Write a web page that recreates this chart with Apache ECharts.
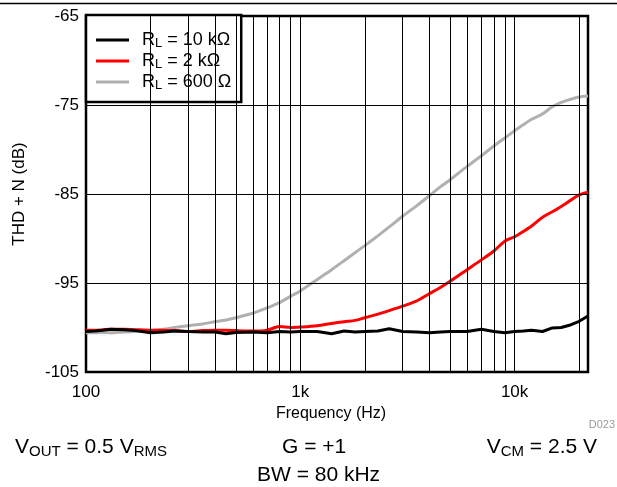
<!DOCTYPE html>
<html>
<head>
<meta charset="utf-8">
<script src="https://cdn.jsdelivr.net/npm/echarts@6/dist/echarts.min.js"></script>
<style>
html,body{margin:0;padding:0;background:#fff;}
#chart{width:617px;height:487px;}
</style>
</head>
<body>
<div id="chart"></div>
<script>
// ---- Data ----
const freqs = [100,110,120,130,150,170,200,230,260,300,350,400,450,500,600,700,800,900,1000,1200,1400,1600,1800,2000,2300,2600,3000,3500,4000,4500,5000,6000,7000,8000,9000,10000,11000,12000,13500,15000,16500,18000,20000,22000];

const rl10k = [-100.45,-100.4,-100.3,-100.2,-100.25,-100.35,-100.6,-100.5,-100.4,-100.45,-100.5,-100.5,-100.7,-100.55,-100.5,-100.6,-100.45,-100.5,-100.45,-100.45,-100.7,-100.4,-100.5,-100.45,-100.4,-100.15,-100.45,-100.5,-100.6,-100.5,-100.45,-100.45,-100.2,-100.45,-100.6,-100.45,-100.4,-100.3,-100.45,-100.05,-100.0,-99.75,-99.3,-98.7];

const rl2k = [-100.3,-100.3,-100.25,-100.2,-100.2,-100.25,-100.3,-100.3,-100.35,-100.45,-100.35,-100.3,-100.3,-100.35,-100.4,-100.3,-99.9,-100.0,-99.95,-99.8,-99.55,-99.35,-99.2,-98.9,-98.5,-98.1,-97.6,-97.0,-96.2,-95.5,-94.8,-93.5,-92.4,-91.4,-90.3,-89.8,-89.2,-88.6,-87.6,-87.0,-86.4,-85.8,-85.1,-84.8];

const rl600 = [-100.6,-100.6,-100.55,-100.6,-100.5,-100.45,-100.35,-100.2,-100.0,-99.8,-99.6,-99.35,-99.15,-98.9,-98.4,-97.8,-97.2,-96.5,-95.9,-94.6,-93.5,-92.5,-91.6,-90.8,-89.7,-88.7,-87.5,-86.3,-85.2,-84.2,-83.4,-81.9,-80.7,-79.6,-78.7,-77.9,-77.2,-76.6,-76.0,-75.2,-74.7,-74.4,-74.1,-74.0];

const seriesNames = ['RL = 10 kΩ', 'RL = 2 kΩ', 'RL = 600 Ω'];
const seriesLabels = ['R{sub|L} = 10 kΩ', 'R{sub|L} = 2 kΩ', 'R{sub|L} = 600 Ω'];
const seriesColors = ['#000000', '#ff0000', '#b0b0b0'];

const yTickLabels = [-105, -95, -85, -75, -65];
const yGridLines = [-95, -85, -75];
const xTickLabels = {100: '100', 1000: '1k', 10000: '10k'};
const xGridLines = [200,300,400,500,600,700,800,900,1000,2000,3000,4000,5000,6000,7000,8000,9000,10000,20000];

const FONT = '"Liberation Sans", Arial, Helvetica, sans-serif';

function pairs(ys) { return freqs.map((f, i) => [f, ys[i]]); }

const chart = echarts.init(document.getElementById('chart'), null, {renderer: 'canvas'});

const dataSets = [rl10k, rl2k, rl600];

const option = {
  animation: false,
  backgroundColor: '#fff',
  textStyle: {fontFamily: FONT},
  grid: {left: 86, right: 29, top: 16, bottom: 115, show: true, borderColor: '#000', borderWidth: 2.5, backgroundColor: 'transparent'},
  legend: {
    orient: 'vertical',
    left: 86, top: 15,
    data: seriesNames,
    icon: 'rect',
    itemWidth: 33, itemHeight: 3,
    itemGap: 2,
    padding: [16, 10, 10, 10],
    borderColor: '#000', borderWidth: 2.5,
    backgroundColor: '#fff',
    formatter: function (name) { return seriesLabels[seriesNames.indexOf(name)]; },
    textStyle: {
      fontFamily: FONT, fontSize: 18, color: '#000', padding: [0, 0, 0, 8],
      rich: {sub: {fontFamily: FONT, fontSize: 13, color: '#000', padding: [7, 0, 0, 0]}}
    }
  },
  xAxis: {
    type: 'log', logBase: 10, min: 100, max: 22000,
    axisLine: {show: false},
    axisTick: {show: false},
    splitLine: {show: false},
    axisLabel: {
      fontFamily: FONT, fontSize: 17, color: '#000', margin: 12,
      showMaxLabel: false,
      formatter: function (v) { const k = Math.round(v); return xTickLabels[k] !== undefined ? xTickLabels[k] : ''; }
    },
    name: 'Frequency (Hz)', nameLocation: 'middle', nameGap: 33,
    nameTextStyle: {fontFamily: FONT, fontSize: 16, color: '#000', padding: [0, 12, 0, 0]}
  },
  yAxis: {
    type: 'value', min: -105, max: -65, interval: 5,
    axisLine: {show: false},
    axisTick: {show: false},
    splitLine: {show: false},
    axisLabel: {
      fontFamily: FONT, fontSize: 17, color: '#000', margin: 7,
      formatter: function (v) { return yTickLabels.indexOf(v) >= 0 ? String(v) : ''; }
    },
    name: 'THD + N (dB)', nameLocation: 'middle', nameGap: 58,
    nameTextStyle: {fontFamily: FONT, fontSize: 17, color: '#000'}
  },
  series: [
    {
      name: '__grid', type: 'line', data: [], z: 1, silent: true,
      markLine: {
        silent: true, symbol: 'none', animation: false,
        label: {show: false},
        lineStyle: {color: '#000', width: 1, type: 'solid'},
        data: xGridLines.map(f => ({xAxis: f})).concat(yGridLines.map(v => ({yAxis: v})))
      }
    }
  ].concat(dataSets.map((d, i) => ({
    name: seriesNames[i], type: 'line', data: pairs(d), z: 3 + (2 - i),
    showSymbol: false, smooth: i === 0 ? false : 0.3,
    lineStyle: {color: seriesColors[i], width: 3},
    itemStyle: {color: seriesColors[i]}
  }))),
  graphic: [
    {type: 'line', shape: {x1: 0, y1: 3.5, x2: 617, y2: 3.5}, style: {stroke: '#000', lineWidth: 1.5}},
    {type: 'text', right: 2, top: 419, style: {text: 'D023', fill: '#999', font: '11px ' + FONT}},
    {type: 'text', left: 15, top: 437, style: {
      text: '{m|V}{s|OUT}{m| = 0.5 V}{s|RMS}',
      rich: {m: {fontFamily: FONT, fontSize: 21, fill: '#000'}, s: {fontFamily: FONT, fontSize: 15, fill: '#000', padding: [9, 0, 0, 0]}}
    }},
    {type: 'text', left: 282, top: 437, style: {
      text: '{m|G = +1}', rich: {m: {fontFamily: FONT, fontSize: 21, fill: '#000'}}
    }},
    {type: 'text', right: 20, top: 437, style: {
      text: '{m|V}{s|CM}{m| = 2.5 V}',
      rich: {m: {fontFamily: FONT, fontSize: 21, fill: '#000'}, s: {fontFamily: FONT, fontSize: 15, fill: '#000', padding: [9, 0, 0, 0]}}
    }},
    {type: 'text', left: 257, top: 465, style: {
      text: '{m|BW = 80 kHz}', rich: {m: {fontFamily: FONT, fontSize: 21, fill: '#000'}}
    }}
  ]
};
chart.setOption(option);
</script>
</body>
</html>
